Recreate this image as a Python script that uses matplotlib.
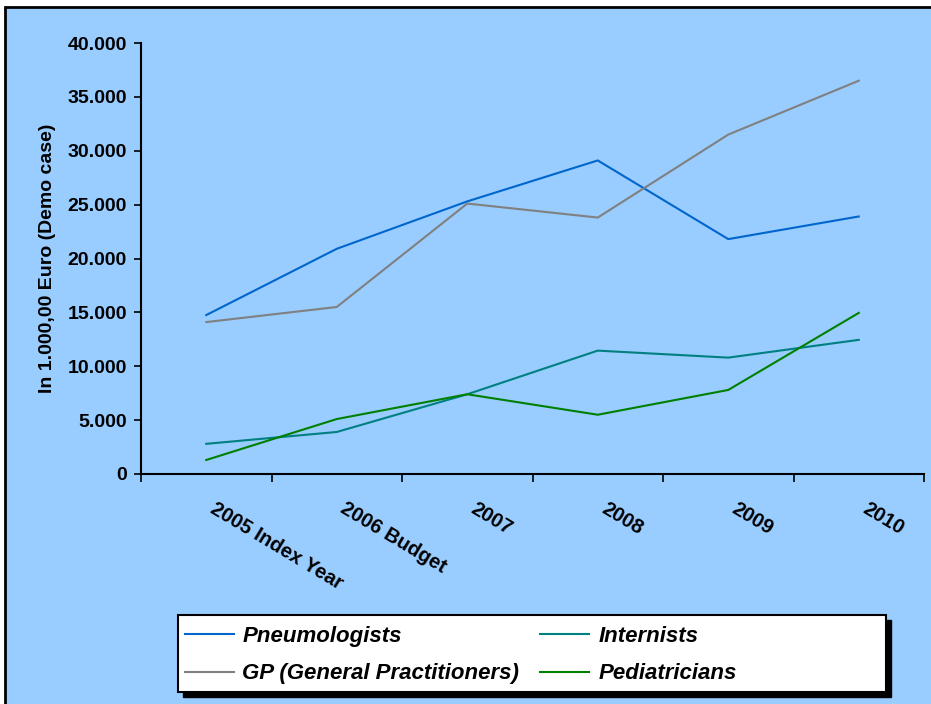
import matplotlib.pyplot as plt
from matplotlib.patches import Rectangle
from matplotlib.lines import Line2D
from matplotlib.transforms import ScaledTranslation

plt.rcParams['font.family'] = ['Liberation Sans', 'DejaVu Sans']

# Cost development per specialist group
categories = ["2005 Index Year", "2006 Budget", "2007", "2008", "2009", "2010"]
pneumologists = [14750, 20900, 25300, 29100, 21800, 23900]
gp = [14100, 15500, 25100, 23800, 31500, 36500]
internists = [2800, 3900, 7400, 11450, 10800, 12450]
pediatricians = [1300, 5100, 7400, 5500, 7800, 14950]
y_ticks = [0, 5000, 10000, 15000, 20000, 25000, 30000, 35000, 40000]

# legend fills column by column
series = [
    ("Pneumologists", pneumologists, "#0066CC"),
    ("GP (General Practitioners)", gp, "#808080"),
    ("Internists", internists, "#008080"),
    ("Pediatricians", pediatricians, "#008000"),
]

W, H = 931, 704
fig = plt.figure(figsize=(W / 100, H / 100), dpi=100, facecolor="white")

# light blue chart area with a black frame
fig.patches.append(Rectangle((5 / W, -0.05), 1.1, 1 - 7 / H + 0.05,
                             transform=fig.transFigure, facecolor="#99CCFF",
                             edgecolor="black", linewidth=2, zorder=-5))

ax = fig.add_axes([141 / W, 1 - 474 / H, (924 - 141) / W, (474 - 43) / H])
ax.set_facecolor("none")

x = list(range(len(categories)))
for name, vals, col in series:
    ax.plot(x, vals, color=col, linewidth=1.5)

ax.set_xlim(-0.5, len(categories) - 0.5)
ax.set_ylim(0, 40000)
ax.set_yticks(y_ticks)
ax.set_yticklabels([f"{v:,}".replace(",", ".") for v in y_ticks],
                   fontsize=14, fontweight="bold")
ax.tick_params(axis="y", direction="out", length=5, width=1.2, pad=5)

# category borders carry the ticks, labels sit at the centres
ax.set_xticks([i - 0.5 for i in range(len(categories) + 1)])
ax.set_xticklabels([])
ax.tick_params(axis="x", which="major", direction="out", length=6, width=1.2)
ax.set_xticks(x, minor=True)
ax.set_xticklabels(categories, minor=True, fontsize=14.5, fontweight="bold",
                   rotation=-31, ha="left", va="top", rotation_mode="anchor")
ax.tick_params(axis="x", which="minor", length=0, pad=18)
shift = ScaledTranslation(10 / 100, 0, fig.dpi_scale_trans)
for lab in ax.get_xticklabels(minor=True):
    lab.set_transform(lab.get_transform() + shift)

for s in ("top", "right"):
    ax.spines[s].set_visible(False)
for s in ("left", "bottom"):
    ax.spines[s].set_linewidth(1.5)

ax.set_ylabel("In 1.000,00 Euro (Demo case)", fontsize=14, fontweight="bold",
              labelpad=8)

# legend box with drop shadow
lx0, ly0, lx1, ly1 = 178, 615, 886, 692
fig.patches.append(Rectangle(((lx0 + 5) / W, 1 - (ly1 + 5) / H),
                             (lx1 - lx0) / W, (ly1 - ly0) / H,
                             transform=fig.transFigure, facecolor="black",
                             edgecolor="black", zorder=1))
fig.patches.append(Rectangle((lx0 / W, 1 - ly1 / H), (lx1 - lx0) / W,
                             (ly1 - ly0) / H, transform=fig.transFigure,
                             facecolor="white", edgecolor="black",
                             linewidth=1.5, zorder=2))
handles = [Line2D([], [], color=c, linewidth=1.5) for _, _, c in series]
labels = [n for n, _, _ in series]
leg = fig.legend(handles, labels, ncol=2, frameon=False,
                 loc="upper left", bbox_to_anchor=(lx0 / W, 1 - (ly0 + 4) / H),
                 prop={"size": 16, "weight": "bold", "style": "italic"},
                 handlelength=2.2, handletextpad=0.4, columnspacing=0.95,
                 labelspacing=0.75, borderaxespad=0, borderpad=0.3)
leg.set_zorder(3)

fig.savefig("out.png", dpi=100, facecolor="white")
